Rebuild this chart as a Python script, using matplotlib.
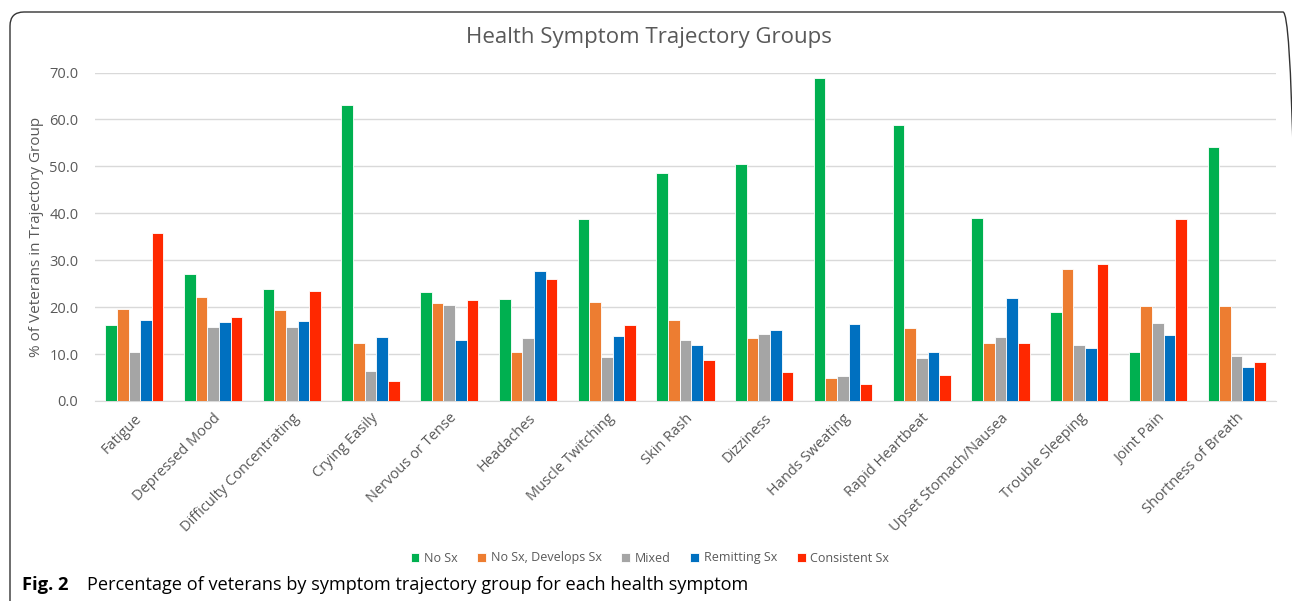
import numpy as np
import matplotlib
matplotlib.use("Agg")
import matplotlib.pyplot as plt
from matplotlib.patches import FancyBboxPatch

plt.rcParams['font.family'] = ['Open Sans', 'DejaVu Sans']

symptoms = ["Fatigue", "Depressed Mood", "Difficulty Concentrating", "Crying Easily",
            "Nervous or Tense", "Headaches", "Muscle Twitching", "Skin Rash", "Dizziness",
            "Hands Sweating", "Rapid Heartbeat", "Upset Stomach/Nausea", "Trouble Sleeping",
            "Joint Pain", "Shortness of Breath"]

groups = ["No Sx", "No Sx, Develops Sx", "Mixed", "Remitting Sx", "Consistent Sx"]

no_sx = [16.1, 27.0, 23.9, 63.0, 23.3, 21.7, 38.7, 48.6, 50.4, 68.8, 58.8, 39.0, 18.9, 10.5, 54.1]
develops_sx = [19.7, 22.1, 19.3, 12.3, 20.9, 10.5, 21.2, 17.2, 13.5, 5.0, 15.5, 12.3, 28.2, 20.3, 20.2]
mixed = [10.5, 15.7, 15.8, 6.3, 20.5, 13.4, 9.3, 12.9, 14.3, 5.4, 9.1, 13.6, 12.0, 16.7, 9.6]
remitting_sx = [17.2, 16.8, 17.0, 13.7, 13.1, 27.8, 13.9, 11.9, 15.2, 16.5, 10.5, 22.0, 11.3, 14.1, 7.2]
consistent_sx = [35.9, 17.9, 23.5, 4.3, 21.6, 25.9, 16.3, 8.7, 6.2, 3.6, 5.6, 12.3, 29.2, 38.8, 8.3]

colors = ["#00B050", "#ED7D31", "#A5A5A5", "#0070C0", "#FF2800"]

series = [no_sx, develops_sx, mixed, remitting_sx, consistent_sx]

fig = plt.figure(figsize=(12.92, 6.01), dpi=100)
ax = fig.add_axes([95 / 1292, 1 - 401 / 601, (1276 - 95) / 1292, (401 - 72.5) / 601])

x = np.arange(len(symptoms))
w = 0.148
for i, (vals, c, name) in enumerate(zip(series, colors, groups)):
    ax.bar(x + (i - 2) * w, vals, width=w, color=c, edgecolor="white", linewidth=0.6,
           label=name, zorder=3)

ax.set_xlim(-0.5, len(symptoms) - 0.5)
ax.set_ylim(0, 70)
ax.set_yticks(np.arange(0, 71, 10))
ax.set_yticklabels([f"{v:.1f}" for v in np.arange(0, 71, 10)], fontsize=10.5, color="#595959")
ax.yaxis.grid(True, color="#D9D9D9", linewidth=1, zorder=0)
ax.set_xticks(x)
ax.set_xticklabels(symptoms, rotation=45, ha="right", rotation_mode="anchor",
                   fontsize=10.5, color="#595959")
ax.tick_params(axis="both", length=0)
ax.tick_params(axis="x", pad=7)
ax.tick_params(axis="y", pad=12)
for s in ["top", "right", "left"]:
    ax.spines[s].set_visible(False)
ax.spines["bottom"].set_color("#D9D9D9")
ax.set_ylabel("% of Veterans in Trajectory Group", fontsize=11, color="#595959", labelpad=4)

fig.text(649 / 1292, 1 - 38 / 601, "Health Symptom Trajectory Groups", ha="center", va="center",
         fontsize=16, color="#595959")

fig.legend(loc="center", bbox_to_anchor=(650 / 1292, 1 - 558 / 601), ncol=5, frameon=False,
           fontsize=9, handlelength=0.7, handleheight=0.7, handletextpad=0.4,
           columnspacing=1.55, labelcolor="#595959")

# chart border (right edge falls just outside the image)
border = FancyBboxPatch((0.10, -0.5), 12.87, 6.01 - 0.12 + 0.5,
                        boxstyle="round,pad=0,rounding_size=0.14",
                        transform=fig.dpi_scale_trans, fill=False,
                        edgecolor="#333333", linewidth=1.0, clip_on=False)
fig.patches.append(border)

fig.text(22 / 1292, 1 - 585 / 601, "Fig. 2", ha="left", va="center", fontsize=13.2,
         fontweight="bold", color="black")
fig.text(87 / 1292, 1 - 585 / 601, "Percentage of veterans by symptom trajectory group for each health symptom",
         ha="left", va="center", fontsize=13.1, color="black")

fig.savefig("out.png", dpi=100)
